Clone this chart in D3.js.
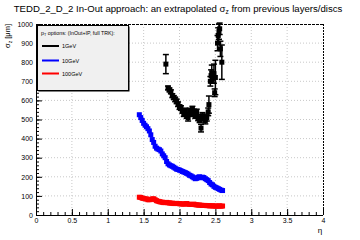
<!DOCTYPE html>
<html><head><meta charset="utf-8">
<script src="https://cdn.jsdelivr.net/npm/d3@7"></script>
<style>body{margin:0;background:#fff}svg{display:block;font-family:"Liberation Sans",Arial,sans-serif}</style>
</head><body><svg id="c" width="360" height="240"></svg>
<script>
const xTicks=[0,0.5,1,1.5,2,2.5,3,3.5,4];
const yTicks=[0,100,200,300,400,500,600,700,800,900,1000];
const seriesNames=["1GeV","10GeV","100GeV"];
const seriesColors=["#000000","#0000ff","#ff0000"];
// 1 GeV: [eta, sigma, err]
const s1=[[1.81,790,50],[1.84,665,10],[1.86,655,10],[1.88,645,10],[1.90,625,10],[1.92,615,10],[1.94,605,12],[1.96,595,12],[1.98,580,12],[2.00,565,12],[2.02,560,12],[2.04,545,12],[2.06,530,14],[2.08,545,14],[2.10,520,14],[2.12,510,18],[2.14,545,14],[2.16,530,14],[2.18,555,14],[2.20,540,14],[2.22,520,14],[2.24,540,14],[2.26,510,16],[2.28,500,16],[2.30,455,20],[2.32,520,16],[2.34,505,18],[2.36,495,18],[2.38,510,18],[2.40,540,20],[2.41,578,45],[2.43,700,25],[2.44,730,30],[2.45,745,40],[2.46,720,30],[2.48,740,50],[2.49,640,20],[2.50,720,90],[2.53,900,40],[2.54,940,40],[2.55,960,40],[2.56,975,30],[2.57,870,40],[2.59,800,90]];
const s10=[[1.44,525],[1.46,510],[1.48,495],[1.50,480],[1.52,470],[1.54,462],[1.56,452],[1.58,440],[1.60,420],[1.62,395],[1.64,380],[1.66,360],[1.68,350],[1.70,345],[1.72,342],[1.74,335],[1.76,320],[1.78,310],[1.80,300],[1.82,280],[1.84,268],[1.86,262],[1.88,258],[1.90,255],[1.92,250],[1.94,245],[1.96,240],[1.98,238],[2.00,235],[2.02,232],[2.04,228],[2.06,225],[2.08,222],[2.10,218],[2.12,214],[2.14,208],[2.16,205],[2.18,200],[2.20,195],[2.22,190],[2.24,192],[2.26,198],[2.28,200],[2.30,195],[2.32,198],[2.34,196],[2.36,190],[2.38,185],[2.40,180],[2.42,170],[2.44,162],[2.46,158],[2.48,150],[2.50,145],[2.52,142],[2.54,138],[2.56,134],[2.58,130],[2.60,128]];
const s100=[[1.44,93],[1.46,92],[1.48,88],[1.50,87],[1.52,85],[1.54,84],[1.56,80],[1.58,80],[1.60,82],[1.62,84],[1.64,85],[1.66,80],[1.68,75],[1.70,72],[1.72,70],[1.74,68],[1.76,67],[1.78,65],[1.80,65],[1.82,66],[1.84,64],[1.86,63],[1.88,62],[1.90,62],[1.92,60],[1.94,60],[1.96,61],[1.98,60],[2.00,59],[2.02,58],[2.04,58],[2.06,57],[2.08,58],[2.10,60],[2.12,57],[2.14,56],[2.16,55],[2.18,55],[2.20,57],[2.22,54],[2.24,53],[2.26,52],[2.28,52],[2.30,51],[2.32,50],[2.34,50],[2.36,50],[2.38,49],[2.40,49],[2.42,48],[2.44,48],[2.46,48],[2.48,47],[2.50,47],[2.52,46],[2.54,47],[2.56,48],[2.58,46],[2.60,47]];

const svg=d3.select("#c");
const L=36,R=323,T=24,B=215;
const x=d3.scaleLinear().domain([0,4]).range([L,R]);
const y=d3.scaleLinear().domain([0,1000]).range([B,T]);

// grid
const g=svg.append("g");
g.selectAll(".gx").data(xTicks.filter(d=>d>0&&d<4)).enter().append("line")
 .attr("x1",d=>x(d)).attr("x2",d=>x(d)).attr("y1",T).attr("y2",B)
 .attr("stroke","#c8c8c8").attr("stroke-dasharray","1,2");
g.selectAll(".gy").data(yTicks.filter(d=>d>0&&d<1000)).enter().append("line")
 .attr("y1",d=>y(d)).attr("y2",d=>y(d)).attr("x1",L).attr("x2",R)
 .attr("stroke","#c8c8c8").attr("stroke-dasharray","1,2");
// frame top/right
svg.append("line").attr("x1",L).attr("x2",R).attr("y1",T+0.5).attr("y2",T+0.5).attr("stroke","#000").attr("stroke-dasharray","3,1");
svg.append("line").attr("x1",R+0.5).attr("x2",R+0.5).attr("y1",T).attr("y2",B).attr("stroke","#000").attr("stroke-dasharray","2,1");

// axes
const styleAx=a=>{a.select(".domain").remove();a.selectAll("line").attr("stroke","#000");a.selectAll("text").attr("font-size","7px").attr("font-family","Liberation Sans, Arial").attr("fill","#000");};
const xAx=d3.axisBottom(x).tickValues(d3.range(0,4.001,0.1)).tickSize(-3).tickFormat("");
svg.append("g").attr("transform",`translate(0,${B})`).call(xAx).call(styleAx);
const xAxM=d3.axisBottom(x).tickValues(xTicks).tickSize(-6).tickPadding(3).tickFormat(d=>d3.format("")(d));
svg.append("g").attr("transform",`translate(0,${B})`).call(xAxM).call(styleAx);
const yAx=d3.axisLeft(y).tickValues(d3.range(0,1000.1,20)).tickSize(-3).tickFormat("");
svg.append("g").attr("transform",`translate(${L},0)`).call(yAx).call(styleAx);
const yAxM=d3.axisLeft(y).tickValues(yTicks).tickSize(-6).tickPadding(3).tickFormat(d=>d);
svg.append("g").attr("transform",`translate(${L},0)`).call(yAxM).call(styleAx);
svg.append("line").attr("x1",L).attr("x2",R).attr("y1",B+0.5).attr("y2",B+0.5).attr("stroke","#000");
svg.append("line").attr("x1",L+0.5).attr("x2",L+0.5).attr("y1",T).attr("y2",B).attr("stroke","#000");

// data
const ms=5;
function squares(data,col){
 svg.append("g").selectAll("rect").data(data).enter().append("rect")
  .attr("x",d=>x(d[0])-ms/2).attr("y",d=>y(d[1])-ms/2).attr("width",ms).attr("height",ms).attr("fill",col);
}
squares(s100,seriesColors[2]);
squares(s10,seriesColors[1]);
const eb=svg.append("g").attr("stroke","#000").attr("stroke-width",1.5);
s1.forEach(d=>{
 const cx=x(d[0]),y1=y(d[1]-d[2]),y2=y(d[1]+d[2]);
 eb.append("line").attr("x1",cx).attr("x2",cx).attr("y1",y1).attr("y2",y2);
 eb.append("line").attr("x1",cx-3).attr("x2",cx+3).attr("y1",y1).attr("y2",y1);
 eb.append("line").attr("x1",cx-3).attr("x2",cx+3).attr("y1",y2).attr("y2",y2);
});
squares(s1.map(d=>[d[0],d[1]]),seriesColors[0]);

// titles
svg.append("text").attr("x",178).attr("y",12).attr("text-anchor","middle").attr("font-size","9.6px").attr("fill","#000")
 .html('TEDD_2_D_2 In-Out approach: an extrapolated σ<tspan dy="2" font-size="6.5px">z</tspan><tspan dy="-2"> from previous layers/discs</tspan>');
svg.append("text").attr("transform","translate(10,24) rotate(-90)").attr("text-anchor","end").attr("font-size","7.5px")
 .html('σ<tspan dy="1.5" font-size="5px">z</tspan><tspan dy="-1.5"> [μm]</tspan>');
svg.append("text").attr("x",320).attr("y",233).attr("text-anchor","middle").attr("font-size","8px").text("η");

// legend
const lg=svg.append("g");
lg.append("rect").attr("x",38.5).attr("y",26.5).attr("width",91).attr("height",65).attr("fill","#000");
lg.append("rect").attr("x",37.5).attr("y",25.5).attr("width",91).attr("height",65).attr("fill","#f0f0f0").attr("stroke","#000");
lg.append("text").attr("x",41).attr("y",35).attr("font-size","5.3px")
 .html('p<tspan dy="1" font-size="3.8px">T</tspan><tspan dy="-1"> options: (InOut+IP, full TRK):</tspan>');
const ly=[46,60.5,73.5];
seriesNames.forEach((n,i)=>{
 lg.append("line").attr("x1",42).attr("x2",59).attr("y1",ly[i]).attr("y2",ly[i]).attr("stroke",seriesColors[i]).attr("stroke-width",2);
 lg.append("text").attr("x",62).attr("y",ly[i]+2).attr("font-size","5.5px").text(n);
});
</script></body></html>
